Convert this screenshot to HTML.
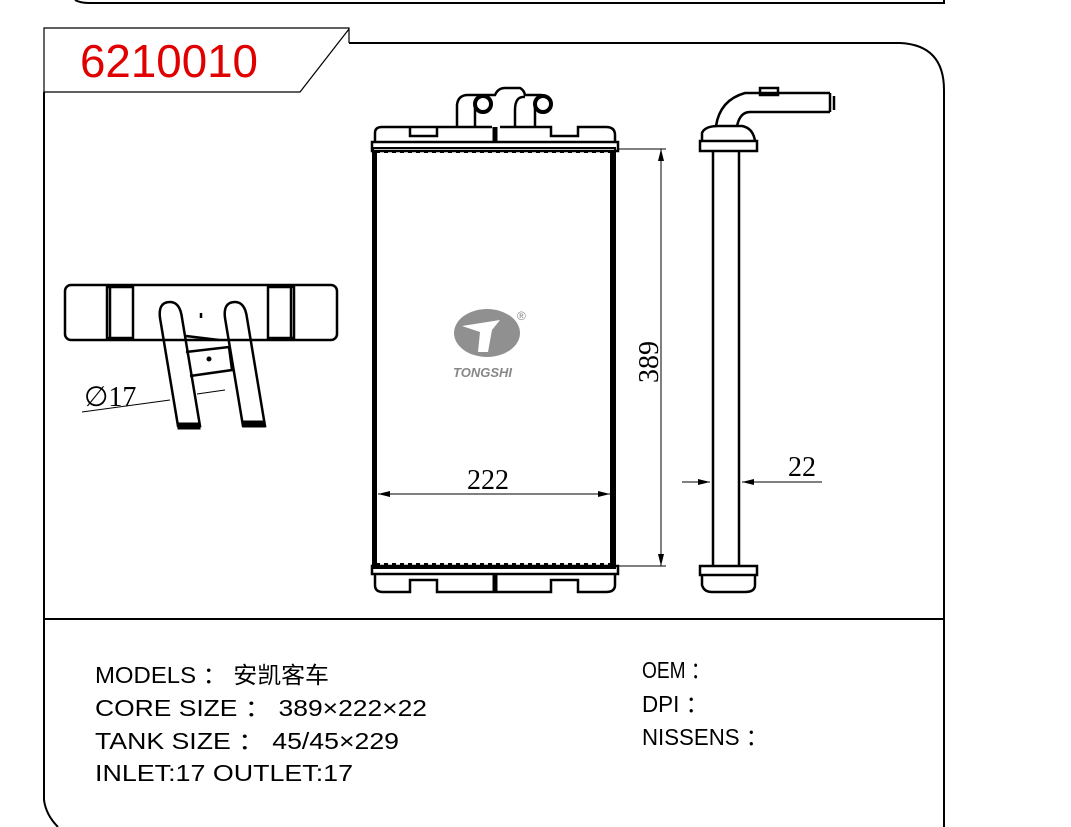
<!DOCTYPE html>
<html><head><meta charset="utf-8"><style>
html,body{margin:0;padding:0;background:#fff;}
svg{display:block;}
text{font-family:"Liberation Sans","Noto Sans CJK SC",sans-serif;}
</style></head><body>
<svg width="1071" height="827" viewBox="0 0 1071 827" xmlns="http://www.w3.org/2000/svg" fill="none" stroke="#000">
<!-- top remnant -->
<path d="M75 0 Q80 3 90 3 L944 3 L944 0" stroke-width="2"/>
<!-- frame -->
<path d="M349 43 L900 43 Q944 45 944 90 L944 827" stroke-width="2"/>
<path d="M44 92 L44 800 Q46 815 58 827" stroke-width="2"/>
<path d="M44 92 L44 28 L349 28 L349 43 M349 29 L300 92 L44 92" stroke-width="1.2"/>
<line x1="44" y1="619" x2="944" y2="619" stroke-width="2"/>
<text x="80" y="77" font-size="46" fill="#e00000" stroke="none" textLength="178" lengthAdjust="spacingAndGlyphs">6210010</text>

<!-- front radiator -->
<g stroke-width="2.5">
<rect x="373" y="148" width="242" height="420" stroke-width="2"/>
<line x1="375" y1="150" x2="375" y2="566" stroke-width="4"/>
<line x1="612" y1="150" x2="612" y2="566" stroke-width="4"/>
<path d="M375 142 L375 133 Q375 127 382 127 L437 127 L437 136 L410 136 L410 127 M437 127 L492 127 M500 127 L551 127 L551 136 L578 136 L578 127 L606 127 Q615 127 615 135 L615 142"/>
<rect x="372" y="142" width="246" height="9"/>
<line x1="495" y1="127" x2="495" y2="142" stroke-width="5"/>
<path d="M457 127 L457 105 Q458 95 468 95 L495 95 Q498 88 505 88 L520 88 Q524 90 525 95 L542 95 M515 127 L515 110 Q515 96 525 97"/>
<circle cx="483" cy="104" r="8" stroke-width="4"/>
<circle cx="543" cy="104" r="8" stroke-width="4"/>
<line x1="475" y1="104" x2="475" y2="127"/>
<line x1="535" y1="104" x2="535" y2="127"/>
<rect x="372" y="566" width="246" height="8"/>
<path d="M375 574 L375 585 Q375 592 383 592 L410 592 L410 580 L437 580 L437 592 L551 592 L551 580 L578 580 L578 592 L606 592 Q615 592 615 585 L615 574"/>
<line x1="495" y1="574" x2="495" y2="592" stroke-width="5"/>
</g>
<path d="M376 152 L612 152 M376 564 L612 564" stroke-width="2" stroke-dasharray="4 4"/>

<!-- dims -->
<g stroke-width="1">
<line x1="618" y1="149" x2="666" y2="149"/>
<line x1="618" y1="566" x2="666" y2="566"/>
<line x1="661" y1="149" x2="661" y2="566"/>
<line x1="378" y1="494" x2="610" y2="494"/>
<line x1="682" y1="482" x2="710" y2="482"/>
<line x1="742" y1="482" x2="822" y2="482"/>
</g>
<g fill="#000" stroke="none">
<path d="M661 149 l-3 12 l6 0z M661 566 l-3 -12 l6 0z M378 494 l12 -3 l0 6z M610 494 l-12 -3 l0 6z M710 482 l-12 -3 l0 6z M742 482 l12 -3 l0 6z"/>
</g>
<g fill="#000" stroke="none">
<text x="467" y="489" font-size="28" style="font-family:'Liberation Serif',serif">222</text>
<text x="788" y="476" font-size="28" style="font-family:'Liberation Serif',serif">22</text>
<text transform="translate(658 383) rotate(-90)" font-size="28" style="font-family:'Liberation Serif',serif">389</text>
<text x="84" y="406" font-size="28" style="font-family:'Liberation Serif',serif">∅17</text>
</g>

<!-- logo -->
<g stroke="none" fill="#909090">
<ellipse cx="487" cy="333" rx="33" ry="24"/>
<path d="M462 326 L500 320 L492 330 L488 352 L478 352 L480 332 Z" fill="#fff"/>
<text x="453" y="377" font-size="13" font-weight="bold" font-style="italic" fill="#888">TONGSHI</text>
<text x="517" y="320" font-size="12" fill="#888">®</text>
</g>

<!-- side view -->
<g stroke-width="2.5">
<line x1="713" y1="150" x2="713" y2="566"/>
<line x1="739" y1="150" x2="739" y2="566"/>
<rect x="700" y="141" width="57" height="10"/>
<path d="M702 141 L702 133 Q705 126 718 126 L742 126 Q753 128 755 141"/>
<path d="M716 126 Q720 100 745 93 L830 93 M737 126 Q740 112 750 112 L830 112 M830 93 L830 112 M834 96 L834 110"/>
<rect x="760" y="88" width="18" height="7"/>
<rect x="700" y="566" width="57" height="9"/>
<path d="M702 575 L702 585 Q704 592 712 592 L745 592 Q755 592 755 585 L755 575"/>
</g>

<!-- left view -->
<g stroke-width="2.5">
<rect x="65" y="285" width="272" height="55" rx="6"/>
<rect x="107" y="287" width="26" height="51"/>
<rect x="268" y="287" width="26" height="51"/>
<line x1="110" y1="287" x2="110" y2="338"/>
<line x1="291" y1="287" x2="291" y2="338"/>
<path d="M178 426 L160 318 Q158 302 170 302 Q180 302 182 318 L200 426 Z"/>
<path d="M243 426 L225 318 Q223 302 235 302 Q245 302 247 318 L265 426 Z"/>
<path d="M186 352 L229 347 L232 370 L190 376"/>
<path d="M186 336 L219 340"/>
</g>
<rect x="178" y="423" width="22" height="6" fill="#000"/>
<rect x="243" y="421" width="22" height="6" fill="#000"/>
<line x1="201" y1="313" x2="201" y2="318" stroke-width="2.5"/>
<circle cx="209" cy="359" r="2" fill="#000"/>
<line x1="82" y1="412" x2="170" y2="400" stroke-width="1"/>
<line x1="197" y1="394" x2="225" y2="390" stroke-width="1"/>

<!-- info text -->
<g fill="#000" stroke="none" font-size="23">
<text x="95" y="683" textLength="234" lengthAdjust="spacingAndGlyphs">MODELS ： 安凯客车</text>
<text x="95" y="716" textLength="332" lengthAdjust="spacingAndGlyphs">CORE SIZE ： 389×222×22</text>
<text x="95" y="749" textLength="304" lengthAdjust="spacingAndGlyphs">TANK SIZE ： 45/45×229</text>
<text x="95" y="781" textLength="258" lengthAdjust="spacingAndGlyphs">INLET:17  OUTLET:17</text>
<text x="642" y="678" textLength="68" lengthAdjust="spacingAndGlyphs">OEM ：</text>
<text x="642" y="712" textLength="66" lengthAdjust="spacingAndGlyphs">DPI ：</text>
<text x="642" y="745" textLength="126" lengthAdjust="spacingAndGlyphs">NISSENS ：</text>
</g>
</svg>
</body></html>
